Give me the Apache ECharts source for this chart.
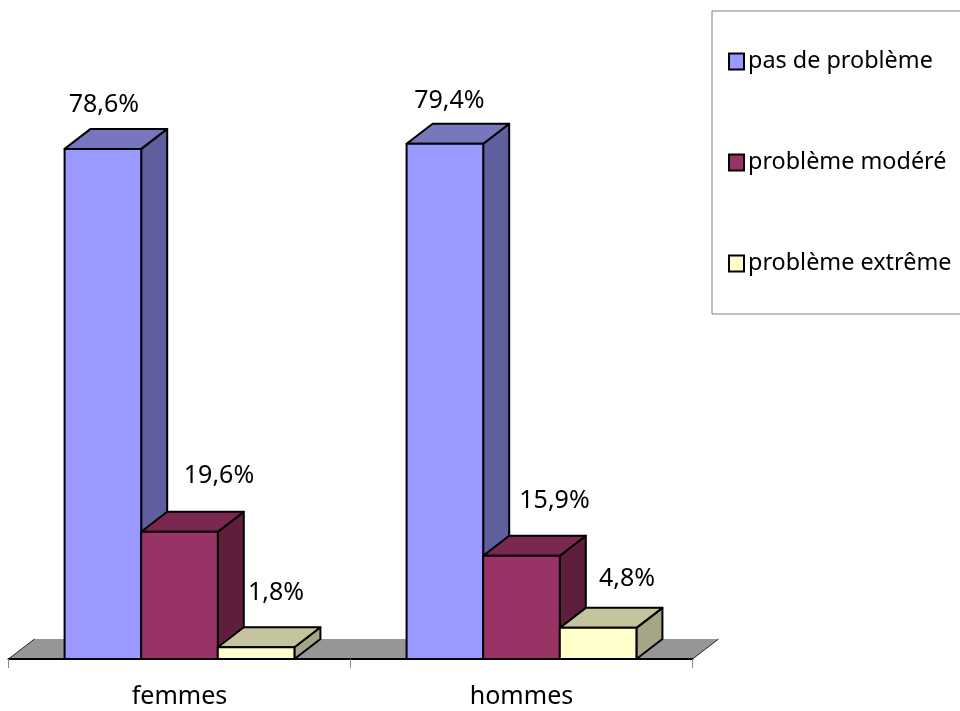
<!DOCTYPE html>
<html>
<head>
<meta charset="utf-8">
<script src="https://cdn.jsdelivr.net/npm/echarts@6/dist/echarts.min.js"></script>
<style>html,body{margin:0;padding:0;background:#fff;overflow:hidden}#c{width:960px;height:711px}</style>
</head>
<body>
<div id="c"></div>
<script>
const categories = ['femmes', 'hommes'];
const seriesNames = ['pas de problème', 'problème modéré', 'problème extrême'];
const pasDeProbleme = [78.6, 79.4];
const problemeModere = [19.6, 15.9];
const problemeExtreme = [1.8, 4.8];

// Styles and layout
const FONT = '"Noto Sans", sans-serif';
const faces = [
  { front: '#9999FF', top: '#7777C0', side: '#5F5F9E' },
  { front: '#993366', top: '#7A284F', side: '#5E1F3E' },
  { front: '#FFFFCC', top: '#C4C49E', side: '#A6A686' }
];
const DX = 26, DY = -20;
const barRatio = 0.224;
// hand-placed label offsets, from the top-centre of each bar's front face
const labelNudges = [
  [[1, -44.5], [4.5, -42.5]],
  [[39.5, -55.5], [33, -54.5]],
  [[20, -54.5], [29, -48.5]]
];

function fmt(v) { return v.toFixed(1).replace('.', ',') + '%'; }

function barRenderer(si) {
  return function (params, api) {
    const i = api.value(0), v = api.value(1);
    const base = api.coord([i, 0]), topPt = api.coord([i, v]);
    const w = api.size([1, 0])[0] * barRatio;
    const x0 = base[0] + (si - 1.5) * w, x1 = x0 + w;
    const yB = base[1], yT = topPt[1];
    const line = { stroke: '#000', lineWidth: 2, lineJoin: 'round' };
    const poly = (pts, fill) => ({
      type: 'polygon', shape: { points: pts },
      style: Object.assign({ fill: fill }, line)
    });
    const nudge = labelNudges[si][i];
    return {
      type: 'group',
      children: [
        poly([[x1, yB], [x1 + DX, yB + DY], [x1 + DX, yT + DY], [x1, yT]], faces[si].side),
        poly([[x0, yT], [x0 + DX, yT + DY], [x1 + DX, yT + DY], [x1, yT]], faces[si].top),
        poly([[x0, yB], [x1, yB], [x1, yT], [x0, yT]], faces[si].front),
        {
          type: 'text',
          style: {
            x: (x0 + x1) / 2 + nudge[0], y: yT + nudge[1],
            text: fmt(v), fill: '#000', font: '25px ' + FONT,
            align: 'center', verticalAlign: 'middle'
          }
        }
      ]
    };
  };
}

function floorRenderer(params, api) {
  const c = params.coordSys;
  const xL = c.x, xR = c.x + c.width, y = c.y + c.height;
  return {
    type: 'group',
    children: [
      { type: 'polygon', shape: { points: [[xL, y], [xL + DX, y + DY], [xR + DX, y + DY], [xR, y]] },
        style: { fill: '#969696' } },
      { type: 'line', shape: { x1: xL, y1: y, x2: xL + DX, y2: y + DY }, style: { stroke: '#222', lineWidth: 1 } },
      { type: 'line', shape: { x1: xR, y1: y, x2: xR + DX, y2: y + DY }, style: { stroke: '#222', lineWidth: 1 } }
    ]
  };
}

const valueSets = [pasDeProbleme, problemeModere, problemeExtreme];
const series = [{
  type: 'custom', name: 'floor', silent: true, z: 1, clip: false,
  renderItem: floorRenderer, data: [[0, 0]], encode: { x: 0, y: 1 }
}].concat(valueSets.map((vals, si) => ({
  type: 'custom', name: seriesNames[si], z: 2 + si, clip: false,
  itemStyle: { color: faces[si].front },
  renderItem: barRenderer(si),
  encode: { x: 0, y: 1 },
  data: vals.map((v, i) => [i, v])
})));

const chart = echarts.init(document.getElementById('c'));
chart.setOption({
  animation: false,
  backgroundColor: '#fff',
  grid: { left: 8.5, width: 684, top: 10, height: 649 },
  xAxis: {
    type: 'category', data: categories, z: 10,
    axisLine: { lineStyle: { color: '#000', width: 2 } },
    axisTick: { show: true, length: 9, lineStyle: { color: '#888', width: 1 } },
    axisLabel: { color: '#000', fontFamily: FONT, fontSize: 25, margin: 25 }
  },
  yAxis: { type: 'value', min: 0, max: 100, show: false },
  legend: {
    data: seriesNames,
    orient: 'vertical', left: 712, top: 11,
    padding: [39, 40, 39, 16],
    itemWidth: 15, itemHeight: 16, itemGap: 78,
    icon: 'rect', selectedMode: false,
    itemStyle: { borderColor: '#000', borderWidth: 2 },
    borderColor: '#808080', borderWidth: 1,
    textStyle: { color: '#000', fontFamily: FONT, fontSize: 23.4, lineHeight: 16, padding: [0, 0, 0, -1] }
  },
  series: series
});
</script>
</body>
</html>
